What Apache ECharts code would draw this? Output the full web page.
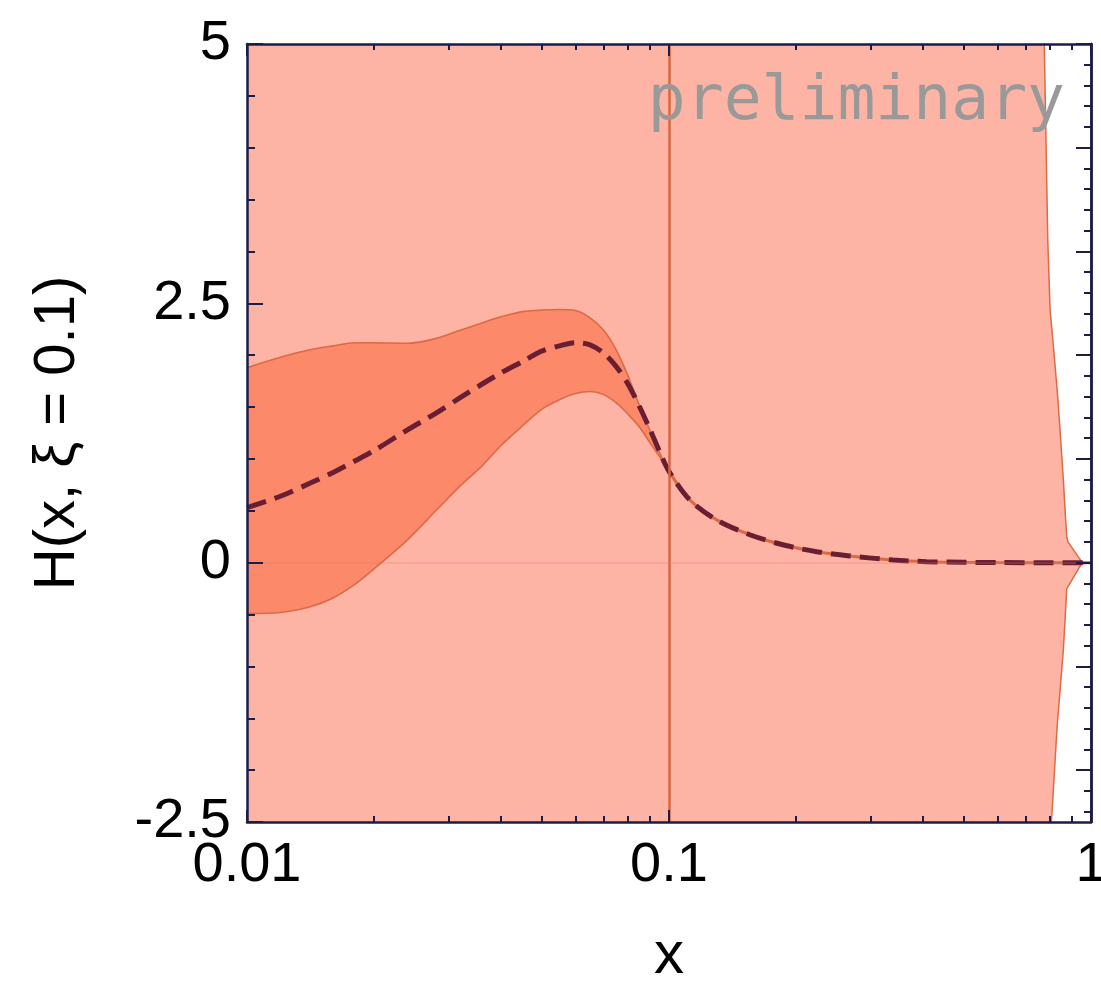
<!DOCTYPE html>
<html>
<head>
<meta charset="utf-8">
<script src="https://cdn.jsdelivr.net/npm/echarts@6/dist/echarts.min.js"></script>
<style>
html,body{margin:0;padding:0;background:#fff;}
#chart{width:1101px;height:994px;}
</style>
</head>
<body>
<div id="chart"></div>
<script>
// ---------- data ----------
const xLabelTicks = [0.01, 0.1, 1];
const xMinorTicks = [0.02,0.03,0.04,0.05,0.06,0.07,0.08,0.09,0.2,0.3,0.4,0.5,0.6,0.7,0.8,0.9];
const yRightMajor = [-2,-1,0,1,2,3,4,5];
const yRightMinor = [-2.4,-2.2,-1.8,-1.6,-1.4,-1.2,-0.8,-0.6,-0.4,-0.2,0.2,0.4,0.6,0.8,1.2,1.4,1.6,1.8,2.2,2.4,2.6,2.8,3.2,3.4,3.6,3.8,4.2,4.4,4.6,4.8];

// wide (light) band
const lightX     = [0.01, 0.3, 0.72, 0.775, 0.79, 0.80, 0.81, 0.83, 0.835, 0.86, 0.868, 0.876, 0.882, 0.95, 1.0];
const lightUpper = [14, 14, 14, 5.0, 3.1, 2.43, 2.2, 1.7, 1.57, 0.8, 0.51, 0.25, 0.2, 0.01, 0];
const lightLower = [-14, -14, -14, -3.6, -3.0, -2.67, -2.35, -1.62, -1.48, -0.84, -0.55, -0.25, -0.23, -0.01, 0];

// narrow (dark) band and central curve
const darkX = [0.01,0.012,0.014,0.016,0.018,0.02,0.024,0.028,0.032,0.036,0.04,0.045,0.05,0.055,0.06,0.065,0.07,0.075,0.08,0.085,0.09,0.095,0.1,
               0.112,0.13,0.156,0.187,0.224,0.268,0.34,0.408,0.5,0.6,0.8,1.0];
const darkUpper = [1.88,1.98,2.05,2.09,2.12,2.12,2.115,2.16,2.24,2.31,2.37,2.42,2.435,2.44,2.43,2.36,2.24,2.05,1.80,1.52,1.28,1.06,0.88,
               0.605,0.41,0.267,0.17,0.106,0.065,0.026,0.01,0.004,0.001,0,0];
const darkLower = [-0.49,-0.48,-0.43,-0.34,-0.21,-0.06,0.22,0.50,0.74,0.93,1.13,1.32,1.48,1.57,1.63,1.65,1.62,1.54,1.43,1.31,1.16,1.02,0.88,
               0.605,0.41,0.267,0.17,0.106,0.065,0.026,0.01,0.004,0.001,0,0];
const central = [0.53,0.64,0.76,0.87,0.98,1.08,1.28,1.44,1.59,1.72,1.83,1.94,2.04,2.09,2.12,2.10,2.02,1.89,1.72,1.51,1.29,1.07,0.88,
               0.605,0.41,0.267,0.17,0.106,0.065,0.026,0.01,0.004,0.001,0,0];

// ---------- styles ----------
const FRAME = '#1c1c4a';
const LIGHT = '#fdb4a5';
const DARK = '#fc8969';
const EDGE = '#dc6a45';
const CURVE = '#6a1e33';
const FONT = '"Liberation Sans", Arial, sans-serif';

const zip = (xs, ys) => xs.map((x, i) => [x, ys[i]]);
const bandRows = (xs, lo, hi) => xs.map((x, i) => [x, lo[i], hi[i]]);
const SPLIT = darkX.indexOf(0.1);   // band collapses onto the curve at x = 0.1
const headX = darkX.slice(0, SPLIT + 1);
const tailX = darkX.slice(SPLIT);

// polygon between lower and upper curves, positioned through the axes (api.coord)
function bandRenderer(rows, fill) {
  return function (params, api) {
    if (params.dataIndex !== 0) return null;
    const cs = params.coordSys;
    const clamp = p => [Math.min(Math.max(p[0], cs.x), cs.x + cs.width),
                        Math.min(Math.max(p[1], cs.y), cs.y + cs.height)];
    const top = rows.map(r => clamp(api.coord([r[0], r[2]])));
    const bot = rows.slice().reverse().map(r => clamp(api.coord([r[0], r[1]])));
    return {
      type: 'polygon',
      shape: { points: top.concat(bot) },
      style: { fill: fill, stroke: null },
      silent: true
    };
  };
}

function xAxisDef(position, ticks, len, showLabel, showLine) {
  return {
    type: 'log', logBase: 10, min: 0.01, max: 1, position: position, z: 10,
    axisLine: { show: showLine, onZero: false, lineStyle: { color: FRAME, width: 2.5 } },
    axisTick: { show: true, inside: true, length: len, customValues: ticks, lineStyle: { color: FRAME, width: 2 } },
    axisLabel: showLabel ? {
      show: true, customValues: xLabelTicks, margin: 16, color: '#000', fontSize: 56, fontFamily: FONT,
      formatter: v => String(+v.toPrecision(3))
    } : { show: false },
    splitLine: { show: false }, minorTick: { show: false }, minorSplitLine: { show: false }
  };
}
function yRightDef(ticks, len) {
  return {
    type: 'value', min: -2.5, max: 5, position: 'right', z: 10,
    axisLine: { show: true, onZero: false, lineStyle: { color: FRAME, width: 2.5 } },
    axisTick: { show: true, inside: true, length: len, customValues: ticks, lineStyle: { color: FRAME, width: 2 } },
    axisLabel: { show: false }, splitLine: { show: false }
  };
}

const lightRows = bandRows(lightX, lightLower, lightUpper);
const SM = 0.3;

const chart = echarts.init(document.getElementById('chart'), null, { renderer: 'canvas' });
chart.setOption({
  animation: false,
  backgroundColor: '#ffffff',
  grid: { left: 247, right: 10, top: 44, bottom: 172, containLabel: false, outerBoundsMode: 'none' },
  xAxis: [
    Object.assign(xAxisDef('bottom', xLabelTicks, 12, true, true), {
      name: 'x', nameLocation: 'middle', nameGap: 104,
      nameTextStyle: { fontSize: 60, fontFamily: FONT, color: '#000' }
    }),
    xAxisDef('bottom', xMinorTicks, 6, false, false),
    xAxisDef('top', xLabelTicks, 12, false, true),
    xAxisDef('top', xMinorTicks, 6, false, false)
  ],
  yAxis: [
    {
      type: 'value', min: -2.5, max: 5, interval: 2.5, position: 'left', z: 10,
      name: 'H(x, ξ = 0.1)', nameLocation: 'middle', nameGap: 160, nameRotate: 90,
      nameTextStyle: { fontSize: 58, fontFamily: FONT, color: '#000' },
      axisLine: { show: true, onZero: false, lineStyle: { color: FRAME, width: 2.5 } },
      axisTick: { show: true, inside: true, length: 16, lineStyle: { color: FRAME, width: 2 } },
      minorTick: { show: true, splitNumber: 5, length: 8, lineStyle: { color: FRAME, width: 2 } },
      axisLabel: { margin: 16, color: '#000', fontSize: 56, fontFamily: FONT },
      splitLine: { show: false }, minorSplitLine: { show: false }
    },
    yRightDef(yRightMajor, 15),
    yRightDef(yRightMinor, 7)
  ],
  series: [
    {
      type: 'custom', name: 'lightFill', data: lightRows, encode: { x: 0, y: [1, 2] },
      renderItem: bandRenderer(lightRows, LIGHT), z: 1, silent: true
    },
    {
      type: 'line', name: 'lightUpper', data: zip(lightX, lightUpper),
      symbol: 'none', z: 2, silent: true, lineStyle: { color: EDGE, width: 1.5 }
    },
    {
      type: 'line', name: 'lightLower', data: zip(lightX, lightLower),
      symbol: 'none', z: 2, silent: true, lineStyle: { color: EDGE, width: 1.5 }
    },
    // dark band for x <= 0.1: fill under upper edge, then repaint light colour under lower edge
    {
      type: 'line', name: 'darkUpper', data: zip(headX, darkUpper),
      symbol: 'none', z: 3, silent: true, smooth: SM,
      lineStyle: { color: EDGE, width: 1.6 },
      areaStyle: { color: DARK, opacity: 1, origin: 'start' }
    },
    {
      type: 'line', name: 'darkLower', data: zip(headX, darkLower),
      symbol: 'none', z: 3, silent: true, smooth: SM,
      lineStyle: { color: EDGE, width: 1.6 },
      areaStyle: { color: LIGHT, opacity: 1, origin: 'start' }
    },
    {
      type: 'line', name: 'darkTail', data: tailX.map((x, i) => [x, darkUpper[SPLIT + i]]),
      symbol: 'none', z: 3.5, silent: true, smooth: SM,
      lineStyle: { color: EDGE, width: 3 },
      markLine: {
        silent: true, symbol: 'none', animation: false,
        label: { show: false },
        data: [
          { xAxis: 0.1, lineStyle: { color: '#d7673f', width: 2.5, type: 'solid' } },
          { yAxis: 0, lineStyle: { color: 'rgba(225,120,95,0.3)', width: 1.5, type: 'solid' } }
        ]
      }
    },
    {
      type: 'line', name: 'central', data: zip(darkX, central),
      symbol: 'none', z: 4, silent: true, smooth: SM,
      lineStyle: { color: CURVE, width: 5, type: [20, 9], cap: 'butt' }
    }
  ],
  graphic: [
    {
      type: 'text', x: 1065, y: 103, z: 10, silent: true,
      style: {
        text: 'preliminary', fill: '#999999',
        font: '63px "DejaVu Sans Mono", monospace',
        textAlign: 'right', textVerticalAlign: 'middle'
      }
    }
  ]
});
</script>
</body>
</html>
